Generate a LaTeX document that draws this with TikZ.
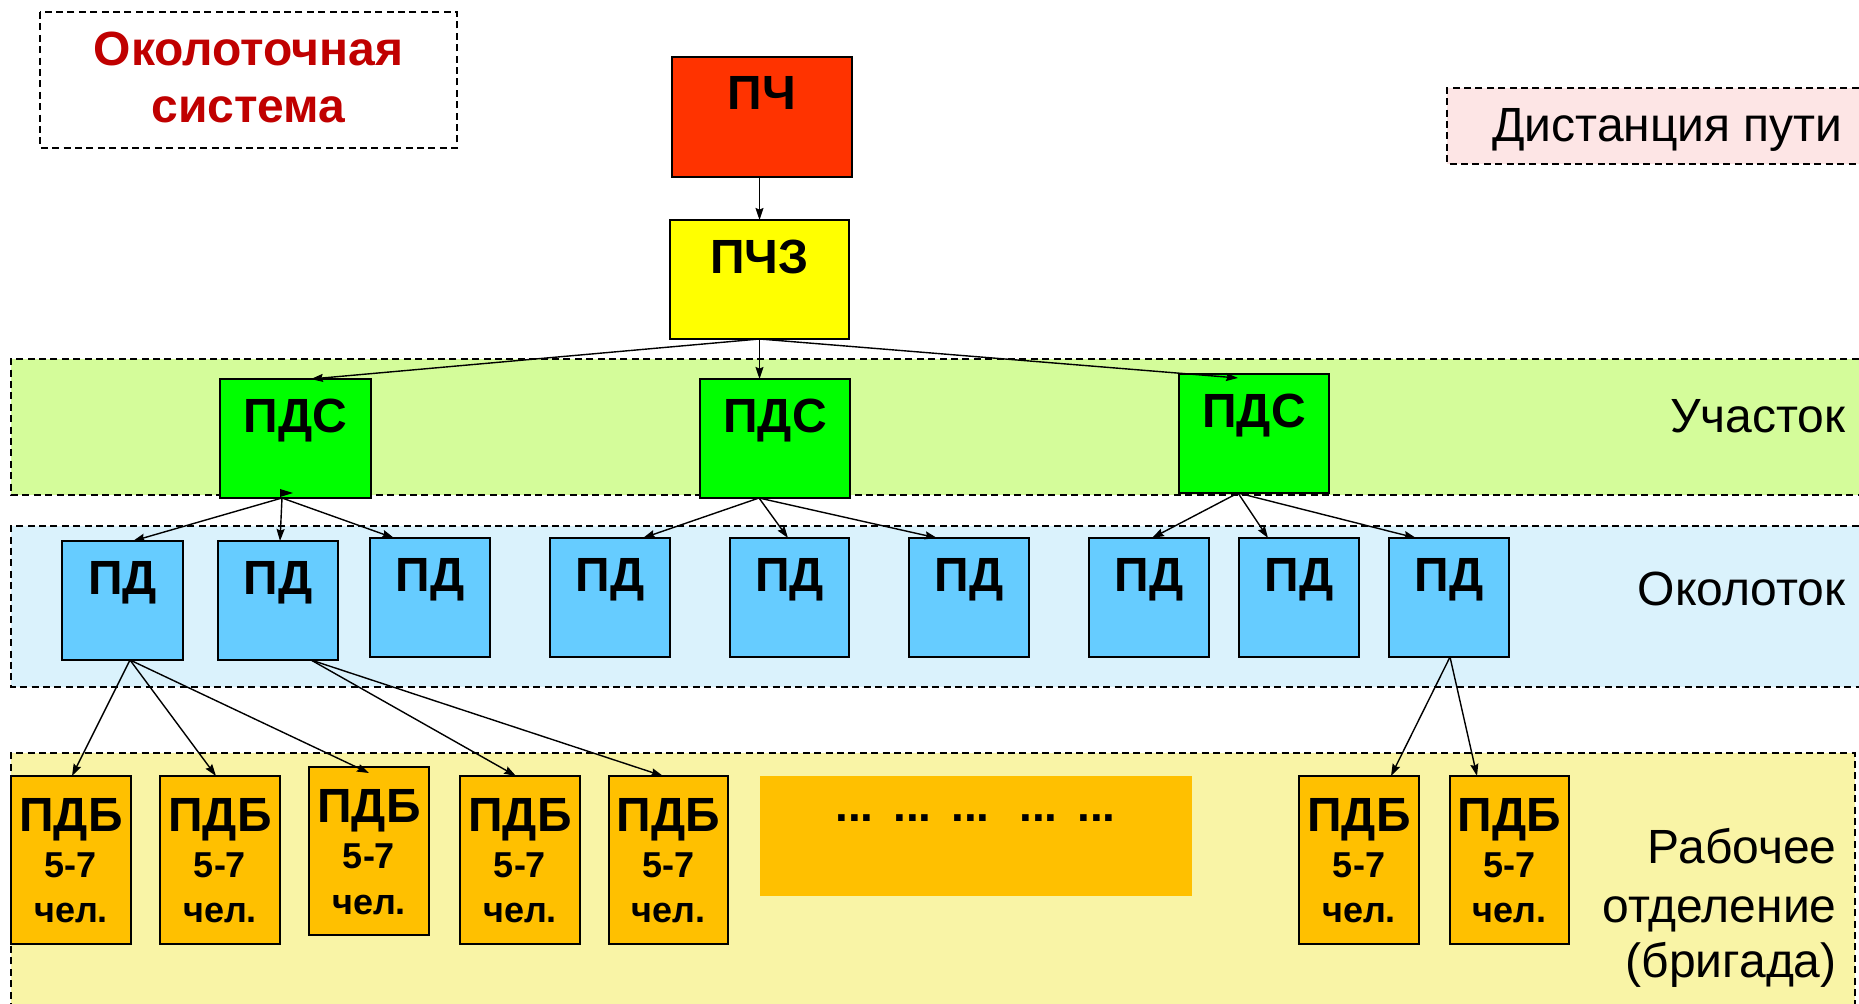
\documentclass[tikz,border=0pt]{standalone}
\usepackage{fontspec}
\setmainfont{Liberation Sans}
\usetikzlibrary{arrows.meta,calc}
\definecolor{cPCH}{HTML}{FF3300}
\definecolor{cPCHZ}{HTML}{FFFF00}
\definecolor{cPDS}{HTML}{00FF00}
\definecolor{cPD}{HTML}{66CCFF}
\definecolor{cPDB}{HTML}{FFC000}
\definecolor{bandG}{HTML}{D4FC9A}
\definecolor{bandC}{HTML}{DAF2FC}
\definecolor{bandY}{HTML}{F9F4A6}
\definecolor{bandP}{HTML}{FDE5E5}
\definecolor{dred}{HTML}{C00000}
\tikzset{
  box/.style={draw=black, line width=0.75pt, inner sep=0pt, outer sep=0pt},
  dsh/.style={line width=0.85pt, dash pattern=on 3.5pt off 2.2pt},
  arr/.style={line width=0.7pt, -{Stealth[length=6pt,width=4pt,inset=0.8pt]}},
  bigt/.style={font=\bfseries\fontsize{24}{29}\selectfont, inner sep=0pt, anchor=base},
  midt/.style={font=\bfseries\fontsize{18}{22}\selectfont, inner sep=0pt, anchor=base},
  dott/.style={font=\bfseries\fontsize{23}{27}\selectfont, inner sep=0pt, anchor=base},
  labt/.style={font=\fontsize{24}{29}\selectfont, inner sep=0pt, anchor=base east},
}
\newcommand\mkbox[6]{%
  \node[box, fill=#6, minimum width={(#4-#2)*0.5pt}, minimum height={(#5-#3)*0.5pt}] (#1) at ({(#2+#4)/2},{(#3+#5)/2}) {};}
\begin{document}
\begin{tikzpicture}[x=0.5pt,y=-0.5pt]
\useasboundingbox (0,0) rectangle (1859,1004);
\clip (0,0) rectangle (1859,1004);
\fill[white] (0,0) rectangle (1859,1004);

% bands
\fill[bandG] (11,359) rectangle (1870,495);
\draw[dsh] (1870,359) -- (11,359) -- (11,495) -- (1870,495);
\fill[bandC] (11,526) rectangle (1870,687);
\draw[dsh] (1870,526) -- (11,526) -- (11,687) -- (1870,687);
\fill[bandY] (11,753) rectangle (1855,1010);
\draw[dsh] (11,1010) -- (11,753) -- (1855,753) -- (1855,1010);
\fill[bandP] (1447,88) rectangle (1870,164);
\draw[dsh] (1870,88) -- (1447,88) -- (1447,164) -- (1870,164);

% title box
\draw[dsh] (40,12) rectangle (457,148);
\node[bigt, text=dred] (t1) at (248.5,66) {Околоточная};
\node[bigt, text=dred] (t2) at (248.5,123) {система};

% labels
\node[labt] (lDist) at (1843,142) {Дистанция пути};
\node[labt] (lUch) at (1846,433) {Участок};
\node[labt] (lOk) at (1846,606) {Околоток};
\node[labt] (lR1) at (1837,864) {Рабочее};
\node[labt] (lR2) at (1837,922) {отделение};
\node[labt] (lR3) at (1837,978) {(бригада)};

% top boxes
\mkbox{pch}{672}{57}{852}{177}{cPCH}
\node[bigt] (pch-t) at ({(672+852)/2},110) {ПЧ};
\mkbox{pchz}{670}{220}{849}{339}{cPCHZ}
\node[bigt] (pchz-t) at ({(670+849)/2},274) {ПЧЗ};

% PDS
\foreach \n/\a/\b/\t in {1/220/371/379, 2/700/850/379, 3/1179/1329/374}{
  \mkbox{pds\n}{\a}{\t}{\b}{\t+119}{cPDS}
  \node[bigt] (pds\n-t) at ({(\a+\b)/2},{\t+54}) {ПДС};
}

% PD
\foreach \n/\a/\b/\t in {1/62/183/541, 2/218/338/541, 3/370/490/538, 4/550/670/538, 5/730/849/538, 6/909/1029/538, 7/1089/1209/538, 8/1239/1359/538, 9/1389/1509/538}{
  \mkbox{pd\n}{\a}{\t}{\b}{\t+119}{cPD}
  \node[bigt] (pd\n-t) at ({(\a+\b)/2},{\t+54}) {ПД};
}

% PDB
\foreach \n/\a/\b/\t in {1/11/131/776, 2/160/280/776, 3/309/429/767, 4/460/580/776, 5/609/728/776, 6/1299/1419/776, 7/1450/1569/776}{
  \mkbox{pdb\n}{\a}{\t}{\b}{\t+168}{cPDB}
  \node[bigt] (pdb\n-t) at ({(\a+\b)/2},{\t+56}) {ПДБ};
  \node[midt] (pdb\n-n) at ({(\a+\b)/2},{\t+102}) {5-7};
  \node[midt] (pdb\n-c) at ({(\a+\b)/2},{\t+147}) {чел.};
}

% dots block
\fill[cPDB] (760,776) rectangle (1192,896);
\foreach \x [count=\i] in {854.5,912.5,970.5,1038.5,1096.5}
  \node[dott] (dots\i) at (\x,822) {...};

% connectors
\draw[arr] (pchz.north |- pch.south) -- (pchz.north);
\draw[arr] (pchz.south) -- ([xshift=7.75pt]pds1.north);
\draw[arr] (pchz.south) -- (pchz.south |- pds2.north);
\draw[arr] (pchz.south) -- ([xshift=-8pt,yshift=-2pt]pds3.north);

\draw[arr] ([xshift=-6.75pt]pds1.south) -- ([xshift=5.25pt]pd1.north);
\draw[arr] ([xshift=-6.75pt]pds1.south) -- ([xshift=1pt]pd2.north);
\draw[arr] ([xshift=-6.75pt]pds1.south) -- ([xshift=-18pt]pd3.north);
\fill (280,489) -- (293,493) -- (280,497) -- cycle;

\draw[arr] ([xshift=-8pt]pds2.south) -- ([xshift=16.5pt]pd4.north);
\draw[arr] ([xshift=-8pt]pds2.south) -- ([xshift=-0.75pt]pd5.north);
\draw[arr] ([xshift=-8pt]pds2.south) -- ([xshift=-16pt]pd6.north);

\draw[arr] ([xshift=-8pt]pds3.south) -- ([xshift=1.5pt]pd7.north);
\draw[arr] ([xshift=-8pt]pds3.south) -- ([xshift=-15.5pt]pd8.north);
\draw[arr] ([xshift=-8pt]pds3.south) -- ([xshift=-16.5pt]pd9.north);

\draw[arr] ([xshift=3.75pt]pd1.south) -- ([xshift=0.5pt]pdb1.north);
\draw[arr] ([xshift=3.75pt]pd1.south) -- ([xshift=-2pt]pdb2.north);
\draw[arr] ([xshift=3.75pt]pd1.south) -- ([yshift=-3pt]pdb3.north);

\draw[arr] ([xshift=16.5pt]pd2.south) -- ([xshift=-2pt]pdb4.north);
\draw[arr] ([xshift=16.5pt]pd2.south) -- ([xshift=-2.75pt]pdb5.north);

\draw[arr] ([xshift=0.5pt]pd9.south) -- ([xshift=16pt]pdb6.north);
\draw[arr] ([xshift=0.5pt]pd9.south) -- ([xshift=-16.25pt]pdb7.north);
\end{tikzpicture}
\end{document}
